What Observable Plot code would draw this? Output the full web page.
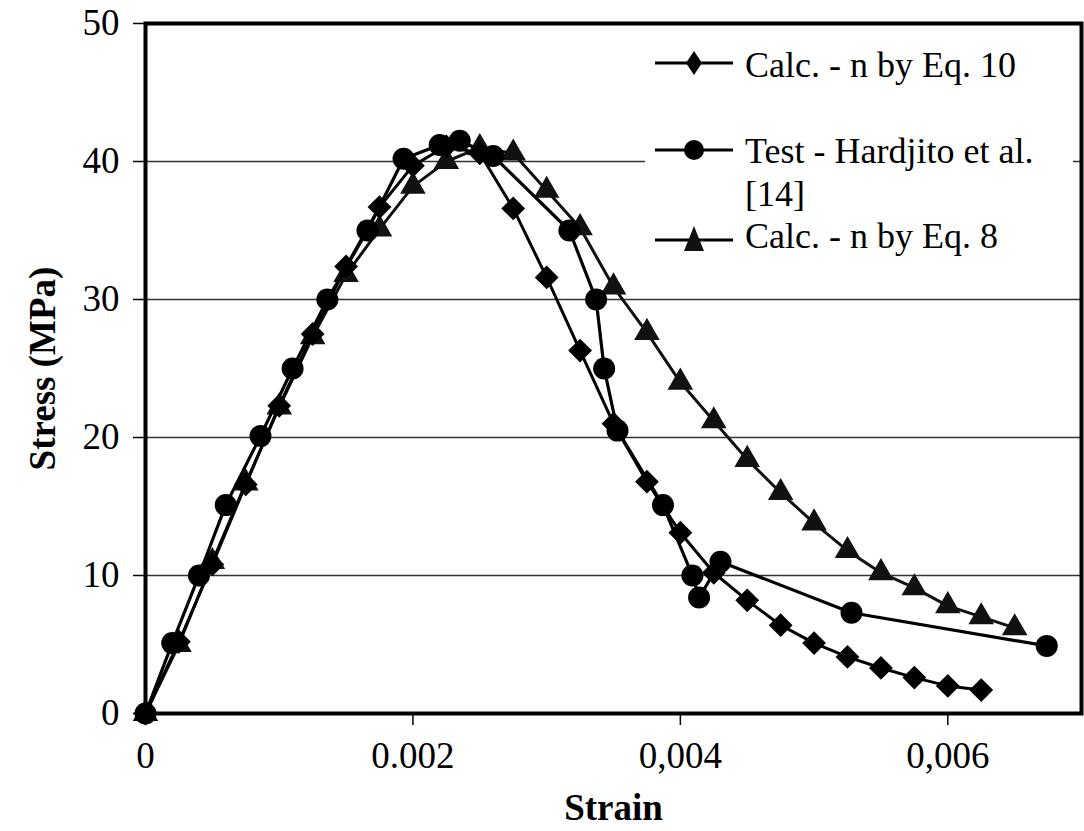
<!DOCTYPE html>
<html>
<head>
<meta charset="utf-8">
<script src="https://cdn.jsdelivr.net/npm/d3@7"></script>
<script src="https://cdn.jsdelivr.net/npm/@observablehq/plot@0.6"></script>
<style>
  html, body { margin: 0; padding: 0; background: white; }
  #wrap { position: relative; width: 1084px; height: 831px; }
  #wrap svg, #wrap svg text { font-family: "Liberation Serif", "Times New Roman", serif; }
  g[aria-label="x-axis label"] text, g[aria-label="y-axis label"] text { font-weight: bold; }
  #legend { position: absolute; left: 645px; top: 27px; }
</style>
</head>
<body>
<div id="wrap"></div>
<script>
// ---- data ----
const eq10Strain = [0, 0.00025, 0.0005, 0.00075, 0.001, 0.00125, 0.0015, 0.00175, 0.002, 0.00225, 0.0025, 0.00275, 0.003, 0.00325, 0.0035, 0.00375, 0.004, 0.00425, 0.0045, 0.00475, 0.005, 0.00525, 0.0055, 0.00575, 0.006, 0.00625];
const eq10Stress = [0, 5.2, 10.8, 16.6, 22.3, 27.5, 32.4, 36.7, 39.7, 41.1, 40.6, 36.6, 31.6, 26.3, 21.0, 16.8, 13.1, 10.2, 8.2, 6.4, 5.1, 4.1, 3.3, 2.6, 2.0, 1.7];

const eq8Strain = [0, 0.00025, 0.0005, 0.00075, 0.001, 0.00125, 0.0015, 0.00175, 0.002, 0.00225, 0.0025, 0.00275, 0.003, 0.00325, 0.0035, 0.00375, 0.004, 0.00425, 0.0045, 0.00475, 0.005, 0.00525, 0.0055, 0.00575, 0.006, 0.00625, 0.0065];
const eq8Stress = [0, 5.0, 11.0, 16.7, 22.2, 27.3, 31.8, 35.1, 38.2, 40.0, 41.0, 40.6, 37.9, 35.2, 30.9, 27.6, 24.0, 21.2, 18.4, 16.0, 13.8, 11.8, 10.2, 9.1, 7.8, 7.0, 6.2];

const testStrain = [0, 0.0002, 0.0004, 0.0006, 0.00086, 0.0011, 0.00136, 0.00166, 0.00193, 0.0022, 0.00235, 0.0026, 0.00317, 0.00337, 0.00343, 0.00353, 0.00387, 0.00409, 0.00414, 0.0043, 0.00528, 0.00674];
const testStress = [0, 5.1, 10.0, 15.1, 20.1, 25.0, 30.0, 35.0, 40.2, 41.2, 41.5, 40.4, 35.0, 30.0, 25.0, 20.5, 15.1, 10.0, 8.4, 11.0, 7.3, 4.9];

const seriesNames = ["Calc. - n by Eq. 10", "Test - Hardjito et al.", "Calc. - n by Eq. 8"];
const seriesNoteLine = "[14]";

const xTicks = [0, 0.002, 0.004, 0.006];
const xTickLabels = ["0", "0.002", "0,004", "0,006"];
const yTicks = [0, 10, 20, 30, 40, 50];
const yGrid = [10, 20, 30, 40];
const xTitle = "Strain";
const yTitle = "Stress (MPa)";

// ---- build tables ----
const toRows = (xs, ys) => xs.map((x, i) => ({strain: x, stress: ys[i]}));
const eq10 = toRows(eq10Strain, eq10Stress);
const eq8 = toRows(eq8Strain, eq8Stress);
const test = toRows(testStrain, testStress);

const chart = Plot.plot({
  width: 1084,
  height: 831,
  marginLeft: 145,
  marginRight: 3,
  marginTop: 23,
  marginBottom: 118,
  style: {fontFamily: "'Liberation Serif', 'Times New Roman', serif", fontSize: "37px", color: "black", background: "white", overflow: "visible"},
  x: {domain: [0, 0.007]},
  y: {domain: [0, 50]},
  marks: [
    Plot.ruleY(yGrid, {stroke: "#333", strokeWidth: 1.6}),
    Plot.axisX(xTicks, {tickSize: 12, tickPadding: 16, strokeWidth: 1.5,
      tickFormat: d => xTickLabels[xTicks.indexOf(d)],
      label: xTitle, labelAnchor: "center", labelOffset: 106, labelArrow: "none"}),
    Plot.axisY(yTicks, {tickSize: 12, tickPadding: 14, strokeWidth: 1.5,
      label: yTitle, labelAnchor: "center", labelOffset: 117, labelArrow: "none"}),
    Plot.line(eq8, {x: "strain", y: "stress", stroke: "#111", strokeWidth: 3}),
    Plot.dot(eq8, {x: "strain", y: "stress", symbol: "triangle", r: 9.5, fill: "#111", stroke: "none"}),
    Plot.line(test, {x: "strain", y: "stress", stroke: "black", strokeWidth: 3.2}),
    Plot.dot(test, {x: "strain", y: "stress", symbol: "circle", r: 11, fill: "black", stroke: "none"}),
    Plot.line(eq10, {x: "strain", y: "stress", stroke: "black", strokeWidth: 3}),
    Plot.dot(eq10, {x: "strain", y: "stress", symbol: "square", rotate: 45, r: 9.5, fill: "black", stroke: "none"}),
    Plot.frame({stroke: "black", strokeWidth: 4})
  ]
});
document.getElementById("wrap").appendChild(chart);

// ---- legend overlay (inside plot area, white box) ----
const lg = d3.select("#wrap").append("svg")
  .attr("id", "legend")
  .attr("width", 428).attr("height", 242)
  .style("background", "white");
const entries = [
  {name: seriesNames[0], lineY: 36, textY: 50, shape: "diamond"},
  {name: seriesNames[1], lineY: 123, textY: 136, shape: "circle"},
  {name: seriesNames[2], lineY: 213, textY: 221, shape: "triangle"}
];
entries.forEach(e => {
  lg.append("line").attr("x1", 10).attr("x2", 88).attr("y1", e.lineY).attr("y2", e.lineY)
    .attr("stroke", "black").attr("stroke-width", 3);
  const cx = 49, cy = e.lineY;
  if (e.shape === "diamond") {
    lg.append("path").attr("d", `M${cx},${cy-12}L${cx+8},${cy}L${cx},${cy+12}L${cx-8},${cy}Z`).attr("fill", "black");
  } else if (e.shape === "circle") {
    lg.append("circle").attr("cx", cx).attr("cy", cy).attr("r", 10).attr("fill", "black");
  } else {
    lg.append("path").attr("d", `M${cx},${cy-14}L${cx+10},${cy+11}L${cx-10},${cy+11}Z`).attr("fill", "#111");
  }
  lg.append("text").attr("x", 100).attr("y", e.textY).text(e.name)
    .attr("font-size", 36).attr("fill", "black");
});
lg.append("text").attr("x", 100).attr("y", 179).text(seriesNoteLine)
  .attr("font-size", 36).attr("fill", "black");
</script>
</body>
</html>
